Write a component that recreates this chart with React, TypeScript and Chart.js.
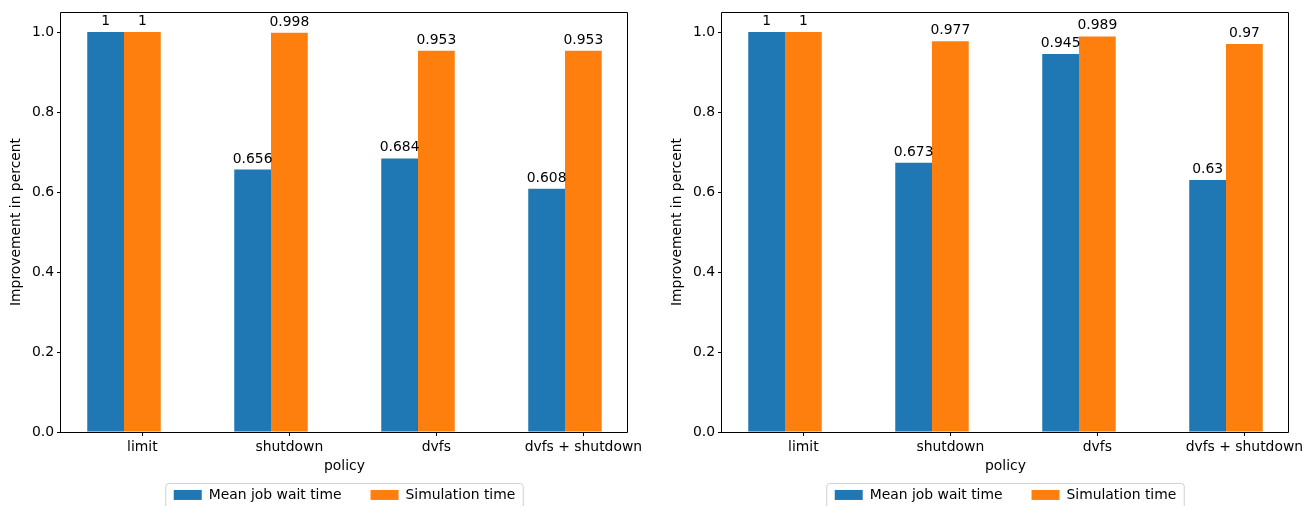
import React, { useEffect, useRef } from "react";
import { Chart, registerables } from "chart.js";

Chart.register(...registerables);

const categories = ["limit", "shutdown", "dvfs", "dvfs + shutdown"];
const seriesLabels = ["Mean job wait time", "Simulation time"];
const leftWait = [1, 0.656, 0.684, 0.608];
const leftSim = [1, 0.998, 0.953, 0.953];
const rightWait = [1, 0.673, 0.945, 0.63];
const rightSim = [1, 0.977, 0.989, 0.97];
const yTicks = [0, 0.2, 0.4, 0.6, 0.8, 1.0];
// tick marks sit over the second bar of each group, as in the reference
const TICK_SHIFT = 0.125;

const FONT = { family: "'DejaVu Sans', sans-serif", size: 13.9 };
const BLUE = "#1f77b4";
const ORANGE = "#ff7f0e";

const spinePlugin = {
  id: "spines",
  afterDraw(chart: any) {
    const { ctx, chartArea: a } = chart;
    ctx.save();
    ctx.strokeStyle = "#000";
    ctx.lineWidth = 1;
    ctx.beginPath();
    ctx.moveTo(a.left - 0.5, a.top + 0.5);
    ctx.lineTo(a.right - 0.5, a.top + 0.5);
    ctx.lineTo(a.right - 0.5, a.bottom + 0.5);
    ctx.lineTo(a.left - 0.5, a.bottom + 0.5);
    ctx.closePath();
    ctx.stroke();
    ctx.restore();
  },
};

const barLabelPlugin = {
  id: "barLabels",
  afterDatasetsDraw(chart: any) {
    const { ctx } = chart;
    ctx.save();
    ctx.font = `${FONT.size}px ${FONT.family}`;
    ctx.fillStyle = "#000";
    ctx.textAlign = "center";
    ctx.textBaseline = "alphabetic";
    chart.data.datasets.forEach((ds: any, i: number) => {
      const meta = chart.getDatasetMeta(i);
      meta.data.forEach((el: any, j: number) => {
        ctx.fillText(String(ds.data[j].y), el.x, el.y - 7);
      });
    });
    ctx.restore();
  },
};

const legendFramePlugin = {
  id: "legendFrame",
  afterDraw(chart: any) {
    const lg = chart.legend;
    if (!lg || !lg.legendHitBoxes || !lg.legendHitBoxes.length) return;
    const hb = lg.legendHitBoxes;
    const left = Math.min(...hb.map((h: any) => h.left)) - 8;
    const right = Math.max(...hb.map((h: any) => h.left + h.width)) + 8;
    const top = 483.5;
    const bottom = 515;
    const r = 3;
    const { ctx } = chart;
    ctx.save();
    ctx.strokeStyle = "rgba(204,204,204,0.9)";
    ctx.lineWidth = 1;
    ctx.beginPath();
    ctx.moveTo(left + r, top);
    ctx.lineTo(right - r, top);
    ctx.quadraticCurveTo(right, top, right, top + r);
    ctx.lineTo(right, bottom);
    ctx.lineTo(left, bottom);
    ctx.lineTo(left, top + r);
    ctx.quadraticCurveTo(left, top, left + r, top);
    ctx.stroke();
    ctx.restore();
  },
};

function Panel({ wait, sim, width, x }: { wait: number[]; sim: number[]; width: number; x: number }) {
  const ref = useRef<HTMLCanvasElement | null>(null);
  useEffect(() => {
    if (!ref.current) return;
    const chart = new Chart(ref.current, {
      type: "bar",
      data: {
        datasets: [
          {
            label: seriesLabels[0],
            data: categories.map((_, i) => ({ x: i, y: wait[i] })),
            backgroundColor: BLUE,
            borderWidth: 0,
            categoryPercentage: 0.5,
            barPercentage: 1,
          },
          {
            label: seriesLabels[1],
            data: categories.map((_, i) => ({ x: i, y: sim[i] })),
            backgroundColor: ORANGE,
            borderWidth: 0,
            categoryPercentage: 0.5,
            barPercentage: 1,
          },
        ],
      } as any,
      options: {
        responsive: false,
        animation: false,
        devicePixelRatio: 1,
        layout: { padding: { left: 0, top: 12, right: width - 628, bottom: 0 } },
        scales: {
          x: {
            type: "linear",
            min: -0.4286,
            max: 3.4286,
            offset: false,
            grid: {
              display: true,
              offset: false,
              drawOnChartArea: false,
              drawTicks: true,
              tickLength: 4,
              color: "#000",
            },
            border: { display: false },
            afterBuildTicks: (s: any) => {
              s.ticks = categories.map((_, i) => ({ value: i + TICK_SHIFT }));
            },
            afterFit: (s: any) => {
              s.height = 27;
            },
            ticks: {
              autoSkip: false,
              maxRotation: 0,
              minRotation: 0,
              padding: 3.5,
              color: "#000",
              font: FONT,
              callback: (v: any) => categories[Math.round(Number(v) - TICK_SHIFT)],
            },
            title: {
              display: true,
              text: "policy",
              color: "#000",
              font: FONT,
              padding: { top: 0, bottom: -16 },
            },
          },
          y: {
            type: "linear",
            min: 0,
            max: 1.05,
            grid: { display: true, drawOnChartArea: false, drawTicks: true, tickLength: 4, color: "#000" },
            border: { display: false },
            afterBuildTicks: (s: any) => {
              s.ticks = yTicks.map((v) => ({ value: v }));
            },
            afterFit: (s: any) => {
              s.width = 61;
            },
            ticks: {
              padding: 3,
              color: "#000",
              font: FONT,
              callback: (v: any) => Number(v).toFixed(1),
            },
            title: {
              display: true,
              text: "Improvement in percent",
              color: "#000",
              font: FONT,
              padding: { top: 8.2, bottom: 0 },
            },
          },
        },
        plugins: {
          legend: {
            position: "bottom",
            fullSize: false,
            maxHeight: 47,
            labels: { boxWidth: 28, boxHeight: 10, padding: 29, color: "#000", font: FONT },
          },
          tooltip: { enabled: false },
        },
      } as any,
      plugins: [spinePlugin, barLabelPlugin, legendFramePlugin],
    });
    return () => chart.destroy();
  }, []);
  return (
    <canvas
      ref={ref}
      width={width}
      height={506}
      style={{ position: "absolute", left: x, top: 0, width, height: 506 }}
    />
  );
}

export default function App() {
  return (
    <div style={{ position: "fixed", left: 0, top: 0, width: 1313, height: 506, background: "#fff" }}>
      <Panel wait={leftWait} sim={leftSim} width={661} x={0} />
      <Panel wait={rightWait} sim={rightSim} width={652} x={661} />
    </div>
  );
}
